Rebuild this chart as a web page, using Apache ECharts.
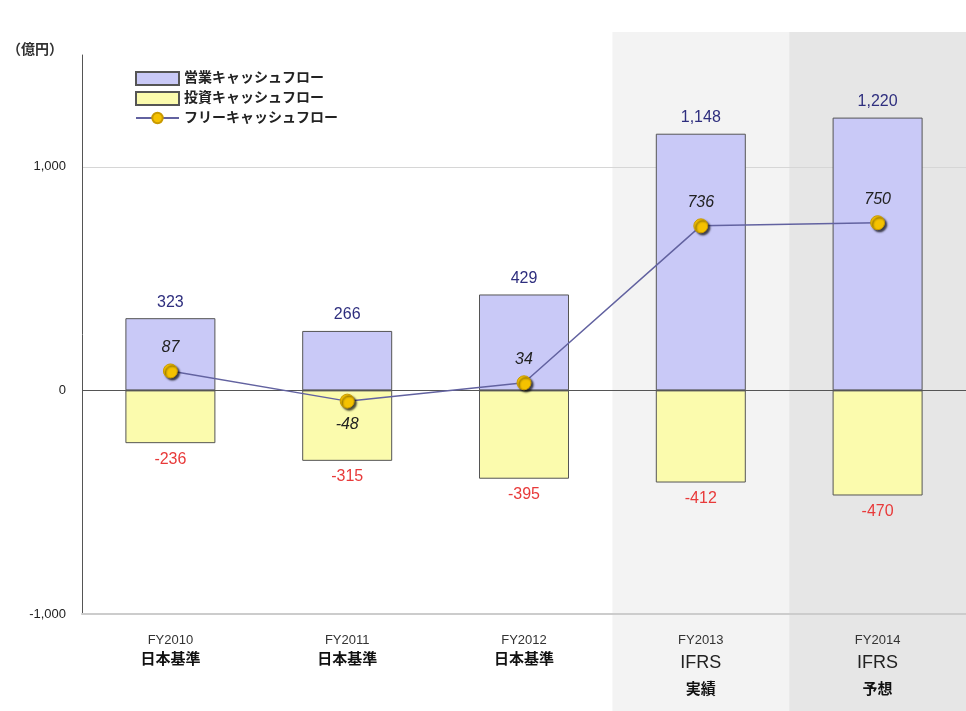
<!DOCTYPE html>
<html>
<head>
    <meta charset="utf-8">
    <title>キャッシュフロー</title>
    <script src="https://cdn.jsdelivr.net/npm/echarts@6/dist/echarts.min.js"></script>
</head>
<body style="margin:0;background:#fff">
<div id="chart1" style="width:966px;height:711px;"></div>
<script type="text/javascript">
    // データ
    var years = ['FY2010', 'FY2011', 'FY2012', 'FY2013', 'FY2014'];
    var standards = ['日本基準', '日本基準', '日本基準', 'IFRS', 'IFRS'];
    var notes = ['', '', '', '実績', '予想'];
    var operatingCF = [323, 266, 429, 1148, 1220];
    var investingCF = [-236, -315, -395, -412, -470];
    var freeCF = [87, -48, 34, 736, 750];
    var seriesNames = ['営業キャッシュフロー', '投資キャッシュフロー', 'フリーキャッシュフロー'];

    var FONT = '"Liberation Sans", "Noto Sans CJK JP", sans-serif';

    var freeData = freeCF.map(function (v) {
        if (v < 0) {
            return {value: v, label: {position: 'bottom', distance: 8}};
        }
        return v;
    });

    var myChart = echarts.init(document.getElementById('chart1'));
    myChart.setOption({
        animation: false,
        textStyle: {fontFamily: FONT},
        title: {
            text: '（億円）',
            left: 2,
            top: 38,
            textStyle: {fontSize: 14, fontWeight: 'bold', color: '#333', fontFamily: FONT}
        },
        legend: {
            orient: 'vertical',
            left: 130,
            top: 66,
            itemWidth: 43,
            itemHeight: 13,
            itemGap: 5,
            data: [
                {name: seriesNames[0], icon: 'rect'},
                {name: seriesNames[1], icon: 'rect'},
                {name: seriesNames[2]}
            ],
            textStyle: {fontSize: 14, fontWeight: 'bold', color: '#222', fontFamily: FONT}
        },
        grid: {left: 82, right: -4, top: 55, bottom: 97},
        xAxis: {
            type: 'category',
            data: years,
            axisLine: {onZero: false, lineStyle: {color: '#ccc', width: 2}},
            axisTick: {show: false},
            axisLabel: {
                margin: 16,
                interval: 0,
                formatter: function (v, i) {
                    var s = '{fy|' + v + '}\n';
                    if (standards[i] === 'IFRS') {
                        s += '{ifrs|IFRS}\n{note|' + notes[i] + '}';
                    } else {
                        s += '{jp|' + standards[i] + '}';
                    }
                    return s;
                },
                rich: {
                    fy: {fontSize: 13, color: '#333', lineHeight: 20, fontFamily: FONT},
                    jp: {fontSize: 15, fontWeight: 'bold', color: '#111', lineHeight: 20, fontFamily: FONT},
                    ifrs: {fontSize: 18, color: '#222', lineHeight: 26, fontFamily: FONT},
                    note: {fontSize: 15, fontWeight: 'bold', color: '#111', lineHeight: 28, fontFamily: FONT}
                }
            }
        },
        yAxis: {
            type: 'value',
            min: -1000,
            max: 1500,
            interval: 1000,
            axisLine: {show: true, lineStyle: {color: '#555'}},
            axisTick: {show: false},
            axisLabel: {
                showMaxLabel: false,
                margin: 16,
                fontSize: 13,
                color: '#222',
                formatter: function (v) {
                    return v.toLocaleString('en-US');
                }
            },
            splitLine: {show: true, lineStyle: {color: ['#ccc', '#ccc', '#d6d6d6', 'transparent']}}
        },
        series: [
            {
                name: seriesNames[0],
                type: 'bar',
                barWidth: 90,
                barGap: '-100%',
                data: operatingCF,
                itemStyle: {color: '#c9c9f7', borderColor: '#555', borderWidth: 1},
                label: {
                    show: true, position: 'top', distance: 8,
                    fontSize: 16, color: '#2e2e7e', fontFamily: FONT,
                    formatter: function (p) { return p.value.toLocaleString('en-US'); }
                },
                markLine: {
                    silent: true,
                    symbol: 'none',
                    label: {show: false},
                    lineStyle: {color: '#555', width: 1, type: 'solid'},
                    data: [{yAxis: 0}]
                }
            },
            {
                name: seriesNames[1],
                type: 'bar',
                barWidth: 90,
                data: investingCF,
                itemStyle: {color: '#fbfbad', borderColor: '#555', borderWidth: 1},
                label: {
                    show: true, position: 'bottom', distance: 8,
                    fontSize: 16, color: '#e83a3a', fontFamily: FONT
                }
            },
            {
                name: seriesNames[2],
                type: 'line',
                data: freeData,
                symbol: 'circle',
                symbolSize: 14,
                lineStyle: {color: '#6262a0', width: 1.5},
                itemStyle: {
                    color: '#f5c200',
                    borderColor: '#c99a00',
                    borderWidth: 1,
                    shadowColor: 'rgba(0,0,0,0.7)',
                    shadowBlur: 2,
                    shadowOffsetX: 2,
                    shadowOffsetY: 2
                },
                label: {
                    show: true, position: 'top', distance: 8,
                    fontSize: 16, fontStyle: 'italic', color: '#222', fontFamily: FONT
                },
                z: 5
            }
        ]
    });

    // FY2013 / FY2014 の背景帯
    var x3 = myChart.convertToPixel({xAxisIndex: 0}, years[3]);
    var x4 = myChart.convertToPixel({xAxisIndex: 0}, years[4]);
    var bw = x4 - x3;
    myChart.setOption({
        graphic: [
            {type: 'rect', z: -100, silent: true,
                shape: {x: x3 - bw / 2, y: 32, width: bw, height: 711 - 32},
                style: {fill: '#f3f3f3'}},
            {type: 'rect', z: -100, silent: true,
                shape: {x: x4 - bw / 2, y: 32, width: bw, height: 711 - 32},
                style: {fill: '#e6e6e6'}}
        ]
    });
</script>
</body>
</html>
